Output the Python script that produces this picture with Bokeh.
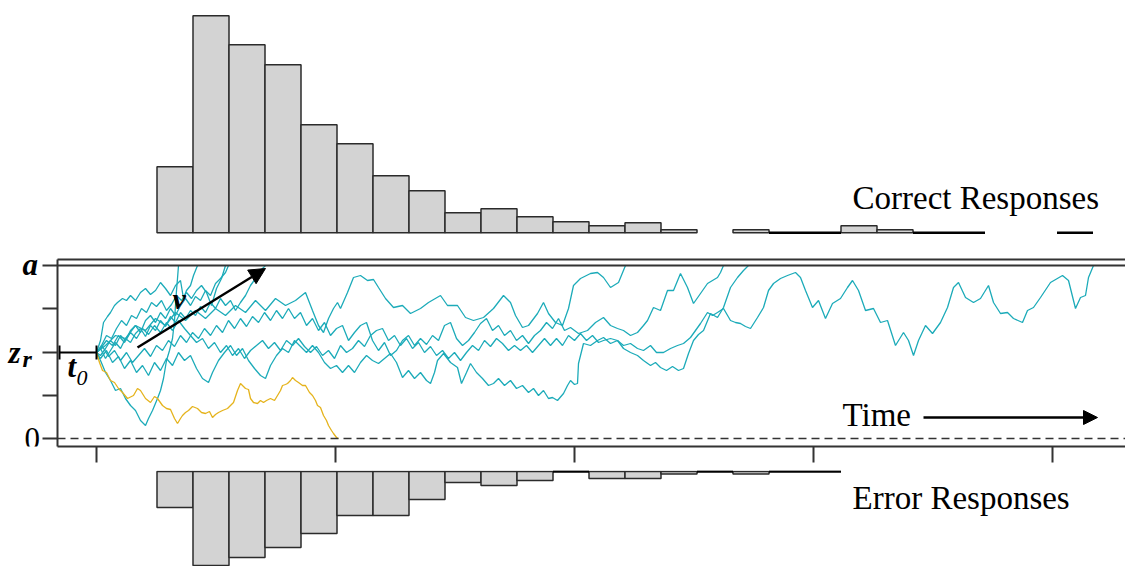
from bokeh.plotting import figure
from bokeh.layouts import column, row
from bokeh.models import Range1d, LinearAxis, FixedTicker, Span, Label, Arrow, NormalHead, ColumnDataSource
from bokeh.embed import file_html
from bokeh.resources import INLINE

# ---------------- data (time in ms after t0, evidence in arbitrary units) ----------------
A = 173            # upper boundary a
Z = 86             # starting point z_r
T0 = 74            # non-decision time t0 (ms)
TIME_TICKS = [0, 478, 956, 1434, 1912]
BIN_START = 121    # ms
BIN_WIDTH = 72     # ms
# None = empty bin with no outline drawn
CORRECT_COUNTS = [66, 217, 188, 168, 108, 89, 57, 42, 20, 24, 16, 11, 7, 10, 3, None,
                  3, 0, 0, 7, 3, 0, 0, None, None, 0]
ERROR_COUNTS = [36, 94, 86, 76, 62, 44, 44, 28, 11, 14, 9, 0, 7, 7, 2.5, 0, 2.5, 0, 0]

PATH_E1 = [(0, 86), (8, 78), (18, 66), (28, 58), (38, 48), (48, 50), (58, 40), (68, 33), (78, 28),
           (88, 18), (98, 13), (104, 20), (112, 28), (122, 40), (128, 48), (134, 60), (140, 78),
           (146, 88), (152, 100), (156, 118), (158, 133), (160, 148), (162, 160), (164, 173)]
PATH_E2 = [(0, 86), (8, 98), (14, 116), (22, 122), (28, 126), (36, 133), (42, 136), (52, 140),
           (60, 138), (68, 143), (78, 138), (88, 146), (98, 150), (108, 144), (118, 148), (128, 156),
           (138, 150), (148, 143), (158, 153), (168, 158), (174, 140), (180, 148), (188, 153),
           (194, 163), (202, 173)]
PATH_E3 = [(0, 86), (10, 93), (20, 103), (30, 100), (40, 110), (50, 118), (60, 113), (70, 123),
           (80, 120), (90, 130), (100, 126), (110, 136), (120, 132), (130, 138), (140, 128),
           (150, 134), (160, 143), (170, 138), (180, 146), (190, 140), (200, 148), (210, 153),
           (220, 146), (230, 133), (240, 150), (250, 160), (258, 173)]
PATH_E4 = [(0, 86), (8, 83), (18, 90), (28, 98), (38, 93), (48, 103), (58, 98), (68, 108), (78, 113),
           (88, 106), (98, 118), (108, 123), (118, 116), (128, 126), (138, 120), (148, 130),
           (158, 123), (168, 133), (178, 140), (188, 133), (198, 142), (208, 138), (218, 148),
           (228, 143), (238, 155), (248, 160), (258, 166), (264, 173)]
PATH_E5 = [(0, 86), (8, 90), (18, 80), (28, 88), (38, 96), (48, 90), (58, 100), (68, 96), (78, 105),
           (88, 110), (98, 102), (108, 113), (118, 108), (128, 118), (138, 112), (148, 122),
           (158, 116), (168, 126), (178, 120), (188, 128), (198, 123), (208, 132), (218, 126),
           (228, 136), (238, 130), (248, 140), (258, 133), (268, 138), (278, 128), (288, 136),
           (298, 143), (308, 153), (318, 160), (328, 168), (338, 173)]
PATH_L1 = [(0, 86), (18, 93), (38, 103), (58, 100), (78, 113), (98, 108), (118, 120), (138, 113),
           (158, 126), (178, 118), (198, 128), (218, 120), (238, 130), (258, 123), (278, 133),
           (298, 126), (318, 138), (338, 128), (358, 140), (378, 133), (398, 138), (418, 146),
           (432, 128), (444, 113), (454, 106), (464, 120), (474, 130), (482, 136), (488, 130),
           (502, 146), (514, 161), (528, 163), (542, 158), (554, 159), (564, 151), (578, 140),
           (594, 131), (612, 133), (628, 125), (648, 130), (664, 136), (688, 143), (702, 133),
           (722, 133), (738, 121), (754, 118), (774, 121), (794, 130), (814, 143), (828, 136),
           (838, 123), (852, 111), (864, 113), (882, 125), (894, 136), (904, 125), (918, 116),
           (932, 113), (944, 130), (954, 153), (968, 160), (988, 165), (1002, 166), (1014, 161),
           (1028, 151), (1044, 156), (1058, 173)]
PATH_L2 = [(0, 86), (12, 92), (24, 82), (36, 88), (48, 78), (60, 86), (72, 76), (84, 83), (96, 90),
           (108, 82), (120, 93), (132, 88), (144, 98), (156, 92), (168, 103), (180, 96), (192, 106),
           (204, 100), (216, 110), (228, 103), (240, 113), (252, 106), (264, 118), (276, 110),
           (288, 120), (300, 112), (312, 122), (324, 116), (336, 126), (348, 118), (360, 128),
           (372, 120), (384, 130), (396, 120), (408, 126), (420, 113), (432, 120), (444, 108),
           (456, 116), (468, 103), (480, 110), (492, 113), (504, 98), (516, 106), (528, 113),
           (540, 116), (552, 98), (564, 88), (576, 96), (588, 83), (600, 88), (612, 98), (624, 103),
           (636, 93), (648, 100), (660, 94), (672, 103), (684, 98), (696, 113), (708, 116),
           (720, 100), (732, 93), (744, 98), (756, 106), (768, 115), (780, 120), (792, 108),
           (804, 113), (816, 103), (828, 108), (840, 98), (852, 103), (864, 95), (876, 103),
           (888, 108), (900, 116), (912, 110), (924, 120), (936, 108), (948, 111), (964, 105),
           (982, 108), (998, 116), (1014, 121), (1028, 113), (1042, 110), (1054, 108), (1068, 103),
           (1082, 106), (1094, 113), (1102, 118), (1114, 131), (1128, 128), (1142, 148),
           (1154, 148), (1168, 165), (1182, 151), (1194, 135), (1208, 145), (1222, 155),
           (1232, 158), (1242, 161), (1248, 166), (1254, 173)]
PATH_L3 = [(0, 86), (8, 80), (20, 88), (32, 76), (44, 82), (56, 70), (68, 78), (80, 66), (92, 73),
           (104, 63), (116, 76), (128, 68), (140, 80), (152, 73), (164, 86), (176, 78), (188, 83),
           (200, 70), (212, 60), (224, 56), (232, 66), (244, 78), (256, 86), (268, 93), (280, 83),
           (292, 90), (304, 78), (316, 70), (328, 63), (338, 60), (348, 73), (360, 83), (372, 90),
           (384, 86), (396, 98), (408, 92), (420, 86), (432, 93), (444, 86), (456, 76), (468, 70),
           (480, 73), (492, 66), (504, 73), (516, 66), (528, 76), (540, 83), (552, 78), (564, 75),
           (576, 80), (588, 85), (600, 76), (612, 61), (624, 68), (636, 60), (648, 66), (660, 58),
           (668, 55), (676, 66), (682, 78), (694, 85), (708, 76), (722, 71), (730, 55), (740, 66),
           (748, 75), (760, 66), (772, 60), (784, 53), (794, 55), (804, 60), (816, 53), (828, 58),
           (840, 50), (852, 53), (864, 46), (874, 50), (884, 43), (894, 48), (904, 40), (912, 41),
           (922, 38), (934, 45), (942, 53), (948, 58), (956, 54), (962, 55), (964, 75), (974, 95),
           (988, 93), (1002, 98), (1014, 101), (1028, 95), (1042, 98), (1054, 90), (1068, 86),
           (1082, 83), (1094, 78), (1108, 73), (1118, 76), (1128, 71), (1140, 68), (1152, 72),
           (1164, 68), (1174, 70), (1184, 85), (1194, 98), (1204, 104), (1214, 108), (1228, 125),
           (1242, 121), (1254, 131), (1268, 151), (1282, 161), (1294, 168), (1304, 173)]
PATH_L4 = [(0, 86), (8, 90), (20, 98), (32, 93), (44, 103), (56, 96), (68, 106), (80, 100), (92, 110),
           (104, 104), (116, 113), (128, 106), (140, 116), (152, 108), (164, 118), (176, 110),
           (188, 103), (200, 96), (212, 100), (224, 90), (236, 96), (248, 86), (260, 93), (272, 83),
           (284, 90), (296, 80), (308, 88), (320, 93), (332, 98), (344, 90), (356, 96), (368, 88),
           (380, 98), (392, 93), (404, 100), (416, 92), (428, 86), (440, 92), (452, 83), (464, 88),
           (476, 80), (488, 93), (500, 86), (512, 90), (524, 98), (536, 92), (548, 103), (560, 108),
           (572, 110), (584, 98), (596, 103), (608, 93), (620, 100), (632, 90), (644, 96), (656, 86),
           (668, 92), (680, 83), (692, 88), (704, 80), (716, 86), (728, 78), (740, 86), (752, 93),
           (764, 88), (776, 98), (788, 92), (800, 100), (812, 95), (824, 88), (836, 93), (848, 88),
           (860, 93), (872, 86), (884, 93), (896, 100), (908, 93), (920, 100), (932, 93), (944, 103),
           (956, 98), (968, 105), (980, 98), (992, 103), (1004, 96), (1014, 98), (1028, 100),
           (1042, 98), (1054, 93), (1068, 95), (1082, 90), (1094, 88), (1108, 93), (1120, 86),
           (1134, 86), (1148, 90), (1162, 93), (1174, 95), (1188, 101), (1198, 108), (1208, 115),
           (1222, 126), (1232, 123), (1242, 126), (1254, 130), (1268, 118), (1278, 116), (1288, 115),
           (1298, 112), (1308, 110), (1322, 121), (1334, 131), (1344, 148), (1354, 155), (1368, 160),
           (1382, 163), (1398, 166), (1408, 161), (1418, 148), (1432, 131), (1444, 138), (1458, 120),
           (1472, 135), (1488, 140), (1502, 151), (1512, 158), (1524, 148), (1538, 128), (1554, 130),
           (1568, 116), (1582, 118), (1598, 93), (1614, 106), (1624, 98), (1634, 83), (1644, 98),
           (1658, 113), (1672, 105), (1688, 116), (1702, 131), (1714, 151), (1724, 156), (1738, 141),
           (1754, 136), (1768, 140), (1784, 153), (1794, 136), (1808, 125), (1822, 126), (1834, 120),
           (1852, 116), (1862, 128), (1874, 131), (1888, 141), (1908, 156), (1932, 163), (1944, 158),
           (1958, 130), (1968, 141), (1978, 143), (1984, 161), (1994, 173)]
PATH_ERR = [(0, 86), (6, 76), (12, 68), (20, 66), (28, 58), (36, 56), (44, 50), (52, 46), (62, 40),
            (74, 43), (82, 50), (88, 48), (98, 40), (108, 36), (116, 42), (122, 40), (132, 33),
            (140, 30), (148, 29), (156, 20), (162, 15), (168, 20), (172, 23), (178, 26), (184, 28),
            (192, 32), (202, 30), (210, 26), (218, 25), (226, 27), (232, 21), (238, 24), (244, 26),
            (252, 28), (262, 30), (268, 33), (274, 36), (282, 48), (288, 55), (294, 52), (298, 50),
            (304, 49), (308, 40), (314, 36), (322, 35), (328, 38), (334, 36), (340, 38), (348, 40),
            (356, 38), (362, 43), (368, 48), (372, 53), (378, 54), (382, 55), (388, 58), (392, 61),
            (398, 58), (404, 56), (412, 53), (418, 53), (426, 46), (432, 43), (438, 38), (442, 33),
            (448, 31), (454, 23), (460, 18), (464, 13), (470, 8), (474, 5), (480, 1), (484, 0)]
CORRECT_PATHS = [PATH_E1, PATH_E2, PATH_E3, PATH_E4, PATH_E5, PATH_L1, PATH_L2, PATH_L3, PATH_L4]
ERROR_PATHS = [PATH_ERR]

# ---------------- styles ----------------
W = 1125
LEFT_W = 42
FONT = "Liberation Serif"
CYAN = "#1cabb9"
GOLD = "#e5b31c"
BAR_FILL = "#d3d3d3"
BAR_LINE = "#2b2b2b"
AX = "#333333"

x_range = Range1d(-78, 2058)
y_range = Range1d(-8, 179)


def bins(counts):
    centers, tops, zc = [], [], []
    for i, c in enumerate(counts):
        if c is None:
            continue
        mid = BIN_START + BIN_WIDTH * (i + 0.5)
        if c == 0:
            zc.append(mid)
        else:
            centers.append(mid)
            tops.append(c)
    return centers, tops, zc


def bare(fig):
    fig.xgrid.visible = False
    fig.ygrid.visible = False
    fig.outline_line_color = None
    fig.background_fill_color = None
    fig.border_fill_color = None


# ---------------- top histogram ----------------
p_top = figure(width=W, height=240, x_range=x_range, y_range=Range1d(-7.7, 232.3),
               x_axis_location=None, y_axis_location=None, toolbar_location=None,
               output_backend="svg", min_border_left=57, min_border_right=0,
               min_border_top=0, min_border_bottom=0)
bare(p_top)
c_x, c_top, c_zero = bins(CORRECT_COUNTS)
p_top.vbar(x=c_x, width=BIN_WIDTH, top=c_top, bottom=0, fill_color=BAR_FILL,
           line_color=BAR_LINE, line_width=1.5)
p_top.segment(x0=[x - BIN_WIDTH / 2 for x in c_zero], x1=[x + BIN_WIDTH / 2 for x in c_zero],
              y0=[0] * len(c_zero), y1=[0] * len(c_zero), line_color="black", line_width=2.5)
p_top.add_layout(Label(x=1512, y=35, text="Correct Responses", text_font=FONT,
                       text_font_size="33px", text_color="black", text_baseline="middle"))

# ---------------- labels left of the diffusion panel ----------------
p_left = figure(width=LEFT_W, height=230, x_range=Range1d(0, LEFT_W), y_range=y_range,
                x_axis_location=None, y_axis_location=None, toolbar_location=None,
                output_backend="svg", min_border_left=0, min_border_right=0,
                min_border_top=19, min_border_bottom=24)
bare(p_left)
lab = dict(text_font=FONT, text_color="black", text_baseline="middle")
p_left.add_layout(Label(x=22, y=174, text="a", text_font_size="31px",
                        text_font_style="bold italic", **lab))
p_left.add_layout(Label(x=8, y=86, text="z", text_font_size="31px",
                        text_font_style="bold italic", **lab))
p_left.add_layout(Label(x=22, y=80, text="r", text_font_size="24px",
                        text_font_style="bold italic", **lab))
p_left.add_layout(Label(x=24, y=0, text="0", text_font_size="31px", **lab))

# ---------------- diffusion panel ----------------
p = figure(width=W - LEFT_W, height=230, x_range=x_range, y_range=y_range,
           toolbar_location=None, output_backend="svg", min_border_left=15,
           min_border_right=0, min_border_top=19, min_border_bottom=24)
bare(p)
p.yaxis.ticker = FixedTicker(ticks=[0, A / 4, A / 2, 3 * A / 4, A])
p.xaxis.ticker = FixedTicker(ticks=TIME_TICKS)
for ax in (p.xaxis, p.yaxis):
    ax.major_label_text_font_size = "0px"
    ax.major_label_text_color = None
    ax.major_label_standoff = 0
    ax.minor_tick_line_color = None
    ax.major_tick_in = 0
    ax.axis_line_color = AX
    ax.axis_line_width = 2
    ax.major_tick_line_color = AX
    ax.major_tick_line_width = 2
p.yaxis.major_tick_out = 15
p.xaxis.major_tick_out = 16
top_axis = LinearAxis(ticker=FixedTicker(ticks=[]), major_label_text_font_size="0px",
                      major_label_text_color=None, major_label_standoff=0,
                      major_tick_out=0, major_tick_in=0, minor_tick_out=0, minor_tick_in=0,
                      axis_line_color=AX, axis_line_width=2)
p.add_layout(top_axis, "above")

p.add_layout(Span(location=A, dimension="width", line_color=AX, line_width=2))
p.add_layout(Span(location=0, dimension="width", line_color=AX, line_width=1.5,
                  line_dash="8 5"))

src_c = ColumnDataSource(dict(xs=[[t for t, e in q] for q in CORRECT_PATHS],
                              ys=[[e for t, e in q] for q in CORRECT_PATHS]))
p.multi_line(xs="xs", ys="ys", source=src_c, line_color=CYAN, line_width=1.3)
src_e = ColumnDataSource(dict(xs=[[t for t, e in q] for q in ERROR_PATHS],
                              ys=[[e for t, e in q] for q in ERROR_PATHS]))
p.multi_line(xs="xs", ys="ys", source=src_e, line_color=GOLD, line_width=1.3)

# t0 marker
p.segment(x0=[-T0, -T0, 0], x1=[0, -T0, 0], y0=[Z, Z - 7, Z - 7], y1=[Z, Z + 7, Z + 7],
          line_color="black", line_width=2)
# drift arrow v
p.add_layout(Arrow(end=NormalHead(size=16, fill_color="black", line_color="black"),
                   x_start=82, y_start=91, x_end=338, y_end=170, line_width=2.5,
                   line_color="black"))
# time arrow
p.add_layout(Arrow(end=NormalHead(size=14, fill_color="black", line_color="black"),
                   x_start=1654, y_start=21, x_end=2002, y_end=21, line_width=2.5,
                   line_color="black"))

p.add_layout(Label(x=1492, y=24, text="Time", text_font_size="33px", **lab))
p.add_layout(Label(x=152, y=140, text="v", text_font_size="30px",
                   text_font_style="bold italic", **lab))
p.add_layout(Label(x=-58, y=72, text="t", text_font_size="31px",
                   text_font_style="bold italic", **lab))
p.add_layout(Label(x=-40, y=61, text="0", text_font_size="22px",
                   text_font_style="italic", **lab))

# ---------------- bottom histogram ----------------
p_bot = figure(width=W, height=96, x_range=x_range, y_range=Range1d(-95, 1),
               x_axis_location=None, y_axis_location=None, toolbar_location=None,
               output_backend="svg", min_border_left=57, min_border_right=0,
               min_border_top=0, min_border_bottom=0)
bare(p_bot)
e_x, e_top, e_zero = bins(ERROR_COUNTS)
p_bot.vbar(x=e_x, width=BIN_WIDTH, top=0, bottom=[-c for c in e_top], fill_color=BAR_FILL,
           line_color=BAR_LINE, line_width=1.5)
p_bot.segment(x0=[x - BIN_WIDTH / 2 for x in e_zero], x1=[x + BIN_WIDTH / 2 for x in e_zero],
              y0=[0] * len(e_zero), y1=[0] * len(e_zero), line_color="black", line_width=2.5)
p_bot.add_layout(Label(x=1512, y=-26, text="Error Responses", text_font=FONT,
                       text_font_size="33px", text_color="black", text_baseline="middle"))

layout = column(p_top, row(p_left, p, spacing=0), p_bot, spacing=0)
open("out.html", "w").write(file_html(layout, INLINE))
